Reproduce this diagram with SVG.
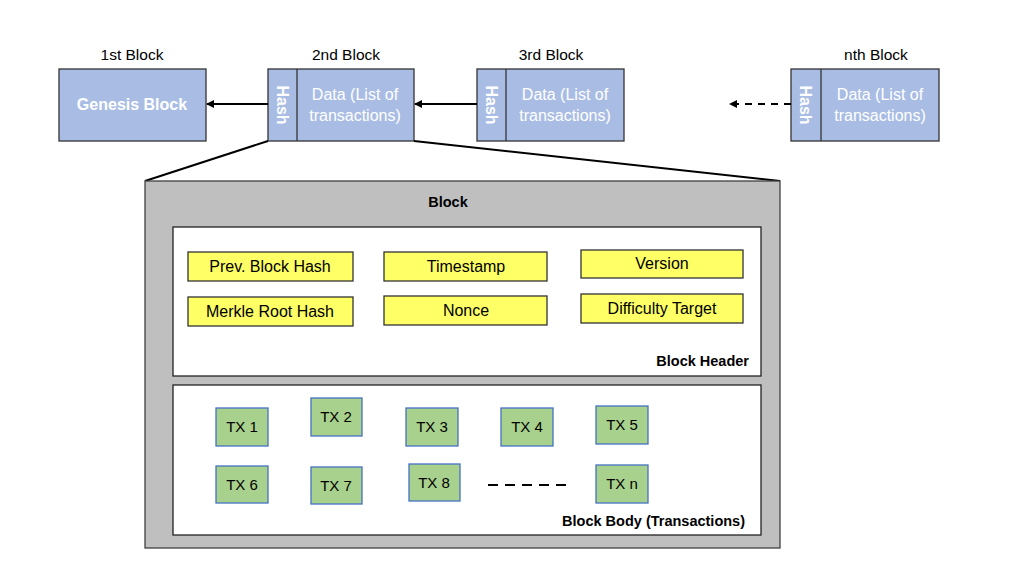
<svg xmlns="http://www.w3.org/2000/svg" width="1020" height="562" viewBox="0 0 1020 562">
<defs>
<marker id="ah" markerWidth="8" markerHeight="8" refX="7" refY="4" orient="auto" markerUnits="userSpaceOnUse">
<path d="M0,0 L8,4 L0,8 Z" fill="#000"/>
</marker>
<style>
.lbl{font-family:"Liberation Sans",Arial,sans-serif;font-size:15.5px;fill:#000;text-anchor:middle}
.blue{fill:#A9BDE4;stroke:#333;stroke-width:1.3}
.wt{font-family:"Liberation Sans",Arial,sans-serif;font-size:16px;fill:#fff;text-anchor:middle}
.yel{fill:#FFFF66;stroke:#333;stroke-width:1.3}
.grn{fill:#A9D18E;stroke:#4472C4;stroke-width:1.3}
.t{font-family:"Liberation Sans",Arial,sans-serif;font-size:16px;fill:#000;text-anchor:middle}
.tx{font-family:"Liberation Sans",Arial,sans-serif;font-size:15px;fill:#000;text-anchor:middle}
.b{font-family:"Liberation Sans",Arial,sans-serif;font-size:14.5px;font-weight:bold;fill:#000}
</style>
</defs>
<rect width="1020" height="562" fill="#fff"/>

<g id="block1">
<text class="lbl" x="132" y="60">1st Block</text>
<rect class="blue" x="59" y="69" width="147" height="72"/>
<text class="wt" x="132" y="110" font-weight="bold">Genesis Block</text>
</g>
<g id="block2">
<text class="lbl" x="346" y="60">2nd Block</text>
<rect class="blue" x="268" y="69" width="146" height="72"/>
<line x1="297" y1="69" x2="297" y2="141" stroke="#333" stroke-width="1.3"/>
<text class="wt" transform="translate(277,105) rotate(90)" font-size="14" font-weight="bold">Hash</text>
<text class="wt" x="355" y="100">Data (List of</text>
<text class="wt" x="355" y="121">transactions)</text>
</g>
<g id="block3">
<text class="lbl" x="551" y="60">3rd Block</text>
<rect class="blue" x="477" y="69" width="147" height="72"/>
<line x1="506" y1="69" x2="506" y2="141" stroke="#333" stroke-width="1.3"/>
<text class="wt" transform="translate(486,105) rotate(90)" font-size="14" font-weight="bold">Hash</text>
<text class="wt" x="565" y="100">Data (List of</text>
<text class="wt" x="565" y="121">transactions)</text>
</g>
<g id="blockn">
<text class="lbl" x="876" y="60">nth Block</text>
<rect class="blue" x="791" y="69" width="148" height="72"/>
<line x1="821" y1="69" x2="821" y2="141" stroke="#333" stroke-width="1.3"/>
<text class="wt" transform="translate(800,105) rotate(90)" font-size="14" font-weight="bold">Hash</text>
<text class="wt" x="880" y="100">Data (List of</text>
<text class="wt" x="880" y="121">transactions)</text>
</g>

<g id="connectors" stroke="#000" stroke-width="2" fill="none">
<line x1="268" y1="104" x2="207" y2="104" marker-end="url(#ah)"/>
<line x1="477" y1="104" x2="415" y2="104" marker-end="url(#ah)"/>
<line x1="791" y1="104" x2="730" y2="104" stroke-dasharray="7,6" marker-end="url(#ah)"/>
<line x1="268" y1="141" x2="145" y2="181"/>
<line x1="414" y1="141" x2="780" y2="181"/>
</g>

<g id="block-detail">
<rect x="145" y="181" width="635" height="367" fill="#BFBFBF" stroke="#404040" stroke-width="1.3"/>
<text class="b" x="448" y="207" text-anchor="middle">Block</text>
</g>
<g id="header">
<rect x="173" y="227" width="588" height="149" fill="#fff" stroke="#222" stroke-width="1.3"/>
<text class="b" x="749" y="366" text-anchor="end">Block Header</text>
</g>
<g id="f-prev"><rect class="yel" x="188" y="252" width="165" height="29"/><text class="t" x="270" y="272">Prev. Block Hash</text></g>
<g id="f-time"><rect class="yel" x="384" y="252" width="163" height="29"/><text class="t" x="466" y="272">Timestamp</text></g>
<g id="f-ver"><rect class="yel" x="581" y="250" width="162" height="28"/><text class="t" x="662" y="269">Version</text></g>
<g id="f-merkle"><rect class="yel" x="188" y="297" width="165" height="29"/><text class="t" x="270" y="317">Merkle Root Hash</text></g>
<g id="f-nonce"><rect class="yel" x="384" y="296" width="163" height="29"/><text class="t" x="466" y="316">Nonce</text></g>
<g id="f-diff"><rect class="yel" x="581" y="294" width="162" height="29"/><text class="t" x="662" y="314">Difficulty Target</text></g>

<g id="body">
<rect x="173" y="385" width="588" height="150" fill="#fff" stroke="#222" stroke-width="1.3"/>
<text class="b" x="745" y="526" text-anchor="end">Block Body (Transactions)</text>
<line x1="488" y1="485" x2="572" y2="485" stroke="#000" stroke-width="2" stroke-dasharray="10,7"/>
</g>
<g id="tx1"><rect class="grn" x="216" y="408" width="52" height="38"/><text class="tx" x="242" y="432">TX 1</text></g>
<g id="tx2"><rect class="grn" x="311" y="398" width="51" height="38"/><text class="tx" x="336" y="422">TX 2</text></g>
<g id="tx3"><rect class="grn" x="406" y="408" width="52" height="38"/><text class="tx" x="432" y="432">TX 3</text></g>
<g id="tx4"><rect class="grn" x="501" y="408" width="52" height="38"/><text class="tx" x="527" y="432">TX 4</text></g>
<g id="tx5"><rect class="grn" x="596" y="406" width="52" height="38"/><text class="tx" x="622" y="430">TX 5</text></g>
<g id="tx6"><rect class="grn" x="216" y="466" width="52" height="37"/><text class="tx" x="242" y="490">TX 6</text></g>
<g id="tx7"><rect class="grn" x="311" y="467" width="51" height="37"/><text class="tx" x="336" y="491">TX 7</text></g>
<g id="tx8"><rect class="grn" x="409" y="464" width="51" height="37"/><text class="tx" x="434" y="488">TX 8</text></g>
<g id="txn"><rect class="grn" x="596" y="465" width="52" height="38"/><text class="tx" x="622" y="489">TX n</text></g>
</svg>
